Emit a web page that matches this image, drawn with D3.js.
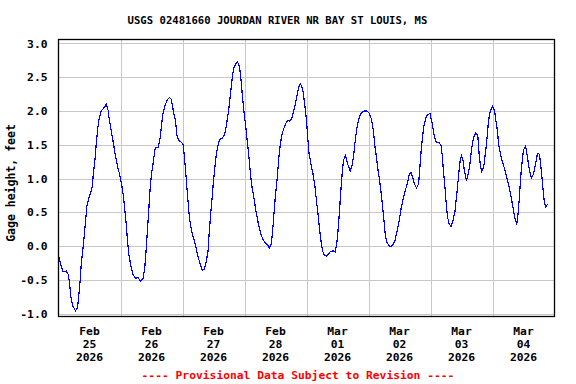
<!DOCTYPE html>
<html>
<head>
<meta charset="utf-8">
<script src="https://cdn.jsdelivr.net/npm/d3@7"></script>
<style>
  body { margin: 0; background: #fff; }
  text { font-family: "DejaVu Sans Mono", monospace; font-weight: bold; }
</style>
</head>
<body>
<svg id="chart"></svg>
<script>
// hours after 2026-02-25 00:00 and gage height (ft)
const hours = [
  0, 0.9, 1.7, 3, 3.8, 4.3, 4.8, 5.6, 6.6, 7.4, 7.9, 8.4, 8.9, 9.4, 9.9, 10.5, 11, 11.8, 12.5, 13,
  13.5, 14.1, 14.6, 15.1, 15.6, 16.4, 17.2, 18, 18.5, 19.2, 19.7, 20.5, 21.3, 22.1, 22.8, 23.6,
  24.4, 25.2, 25.7, 26.2, 26.7, 27.2, 28, 28.8, 29.8, 30.8, 31.6, 32.7, 33.4, 34, 34.5, 35, 35.5,
  36, 36.6, 37.3, 37.8, 38.6, 39.4, 39.9, 40.4, 41.2, 42.2, 43, 43.7, 44.5, 45.3, 45.8, 46.6, 47.4,
  48.2, 48.7, 49.4, 49.9, 50.5, 51, 51.8, 52.5, 53.3, 54.1, 54.9, 55.6, 56.4, 57.2, 57.9, 58.4, 59,
  59.5, 60, 60.6, 61.1, 61.9, 62.4, 63.4, 64.2, 65, 65.8, 66.3, 66.8, 67.3, 67.8, 68.6, 69.3, 70.1,
  70.6, 71.1, 71.6, 72.2, 72.7, 73.2, 73.7, 74.2, 74.7, 75.5, 76.3, 77.1, 77.8, 78.6, 79.4, 80.2,
  81, 81.7, 82.3, 82.8, 83.3, 83.8, 84.3, 84.8, 85.3, 85.9, 86.4, 87.2, 87.9, 88.7, 89.5, 90.2, 91,
  91.8, 92.6, 93.1, 93.7, 94.5, 95.2, 96, 96.5, 97, 97.7, 98.5, 99.3, 100, 100.6, 101.1, 101.6,
  102.2, 102.9, 103.7, 104.5, 105.3, 106.3, 107.1, 107.7, 108.2, 108.7, 109.2, 109.8, 110.3, 111.1,
  111.8, 112.9, 113.6, 114.2, 114.7, 115.2, 115.7, 116.5, 117.3, 118.3, 119.4, 120.4, 121.2, 121.9,
  122.5, 123, 123.5, 124.3, 125.1, 125.6, 126.1, 126.6, 127.2, 128, 128.7, 129.5, 130.3, 131.1,
  131.9, 132.6, 133.4, 134.2, 135, 135.8, 136.5, 137, 137.8, 138.6, 139.4, 139.9, 140.4, 140.9,
  141.5, 142.2, 143, 143.8, 144.7, 145.4, 146.2, 147.3, 148.1, 148.6, 149.1, 149.6, 150.1, 150.6,
  151.2, 151.9, 152.7, 153.5, 154.3, 155, 155.5, 156, 156.6, 157.1, 157.9, 158.4, 159.2, 159.7,
  160.2, 160.7, 161.5, 162.3, 162.8, 163.3, 163.8, 164.6, 165.4, 165.9, 166.4, 166.9, 167.5, 168,
  168.8, 169.3, 169.9, 170.4, 171.2, 171.9, 172.7, 173.5, 174.3, 175.1, 175.8, 176.3, 176.9, 177.4,
  177.9, 178.4, 178.9, 179.4, 180, 180.8, 181.5, 182.3, 183.1, 183.9, 184.7, 185.4, 186.2, 187,
  187.5, 188, 188.6, 189.4
];
const gageHeight = [
  -0.13, -0.28, -0.38, -0.37, -0.42, -0.56, -0.76, -0.89, -0.96, -0.91, -0.71, -0.50, -0.22, -0.07, 0.13, 0.38, 0.60, 0.72, 0.80, 0.87,
  1.07, 1.27, 1.51, 1.71, 1.86, 1.99, 2.03, 2.07, 2.10, 2.01, 1.86, 1.69, 1.51, 1.32, 1.19, 1.07,
  0.92, 0.72, 0.52, 0.33, 0.08, -0.12, -0.29, -0.42, -0.48, -0.46, -0.52, -0.48, -0.32, -0.02, 0.28, 0.57, 0.87,
  1.07, 1.22, 1.42, 1.46, 1.46, 1.61, 1.79, 1.96, 2.08, 2.17, 2.20, 2.17, 1.99, 1.86, 1.64, 1.56, 1.54,
  1.51, 1.34, 1.02, 0.77, 0.50, 0.33, 0.18, 0.09, -0.04, -0.17, -0.27, -0.36, -0.35, -0.23, -0.07, 0.23, 0.52,
  0.72, 0.97, 1.19, 1.37, 1.51, 1.58, 1.60, 1.64, 1.79, 1.99, 2.16, 2.33, 2.50, 2.63, 2.70, 2.73, 2.65,
  2.48, 2.26, 2.06, 1.86, 1.69, 1.51, 1.32, 1.12, 0.92, 0.75, 0.55, 0.38, 0.25, 0.15, 0.08, 0.04,
  0.01, -0.03, 0.03, 0.18, 0.43, 0.67, 0.87, 1.07, 1.32, 1.51, 1.64, 1.74, 1.81, 1.86, 1.85, 1.88, 1.99,
  2.13, 2.28, 2.37, 2.40, 2.33, 2.13, 1.86, 1.59, 1.37, 1.22, 1.07, 0.87, 0.62, 0.43, 0.23, 0.08,
  -0.07, -0.14, -0.15, -0.12, -0.08, -0.07, -0.09, 0.03, 0.23, 0.48, 0.77, 1.07, 1.27, 1.34,
  1.23, 1.11, 1.19, 1.32, 1.51, 1.66, 1.79, 1.91, 1.98, 2.00, 2.00, 1.96, 1.87, 1.71,
  1.47, 1.34, 1.17, 0.97, 0.72, 0.52, 0.33, 0.13, 0.05, 0.00, -0.01, 0.02, 0.09, 0.23,
  0.38, 0.55, 0.70, 0.82, 0.92, 1.07, 1.09, 1.03, 0.92, 0.86, 0.92, 1.17, 1.42, 1.61,
  1.79, 1.90, 1.95, 1.96, 1.81, 1.64, 1.54, 1.53, 1.49, 1.32, 1.07, 0.87, 0.62, 0.43,
  0.33, 0.29, 0.38, 0.52, 0.82, 1.09, 1.27, 1.34, 1.27, 1.12, 0.97, 1.04, 1.19, 1.37,
  1.51, 1.61, 1.67, 1.64, 1.37, 1.19, 1.11, 1.17, 1.42, 1.61, 1.83, 1.96, 2.03, 2.07,
  2.01, 1.86, 1.71, 1.49, 1.34, 1.24, 1.14, 1.02, 0.90, 0.75, 0.60, 0.48, 0.37, 0.33,
  0.48, 0.72, 1.02, 1.22, 1.42, 1.48, 1.32, 1.12, 1.01, 1.07, 1.22, 1.37, 1.36, 1.07,
  0.87, 0.67, 0.58, 0.62
];
const yTicks = [-1.0, -0.5, 0.0, 0.5, 1.0, 1.5, 2.0, 2.5, 3.0];
const dayMonths = ['Feb', 'Feb', 'Feb', 'Feb', 'Mar', 'Mar', 'Mar', 'Mar'];
const dayNumbers = ['25', '26', '27', '28', '01', '02', '03', '04'];
const dayYears = ['2026', '2026', '2026', '2026', '2026', '2026', '2026', '2026'];
const chartTitle = 'USGS 02481660 JOURDAN RIVER NR BAY ST LOUIS, MS';
const yLabel = 'Gage height, feet';
const footNote = '---- Provisional Data Subject to Revision ----';

class GageChart {
  constructor(id) {
    this.margin = {left: 58.5, top: 39.5};
    this.width = 496;
    this.height = 277;
    this.start = new Date(2026, 1, 25);
    this.end = new Date(2026, 2, 5);
    this.root = d3.select(id).attr('width', 576).attr('height', 384);
    this.svg = this.root.append('g')
      .attr('transform', `translate(${this.margin.left}, ${this.margin.top})`);
    this.xScale = d3.scaleTime().domain([this.start, this.end]).range([0, this.width]);
    this.yScale = d3.scaleLinear().domain([-1.044, 3.059]).range([this.height, 0]);
    this.data = hours.map((h, i) => ({
      date: d3.timeMinute.offset(this.start, Math.round(h * 60)),
      value: gageHeight[i]
    }));

    this.drawGrid();
    this.drawLine();
    this.drawFrame();
    this.drawYaxis();
    this.drawXaxis();
    this.drawTexts();
  }

  drawGrid() {
    const days = d3.timeDay.range(this.start, this.end).slice(1);
    this.svg.append('g')
      .call(d3.axisBottom(this.xScale).tickValues(days).tickSize(this.height).tickFormat(''))
      .call(g => g.select('.domain').remove())
      .call(g => g.selectAll('line').attr('stroke', '#c8c8c8').attr('shape-rendering', 'crispEdges'));
    this.svg.append('g')
      .call(d3.axisLeft(this.yScale).tickValues(yTicks).tickSize(-this.width).tickFormat(''))
      .call(g => g.select('.domain').remove())
      .call(g => g.selectAll('line').attr('stroke', '#c8c8c8').attr('shape-rendering', 'crispEdges'));
  }

  drawLine() {
    const line = d3.line()
      .x(d => this.xScale(d.date))
      .y(d => this.yScale(d.value));
    this.svg.append('path')
      .datum(this.data)
      .attr('d', line)
      .attr('fill', 'none')
      .attr('stroke', '#0000ff')
      .attr('stroke-width', 1.2)
      .attr('shape-rendering', 'crispEdges');
  }

  drawFrame() {
    this.svg.append('rect')
      .attr('width', this.width)
      .attr('height', this.height)
      .attr('fill', 'none')
      .attr('stroke', '#000')
      .attr('stroke-width', 1.3);
  }

  drawYaxis() {
    const yAxis = this.svg.append('g')
      .attr('transform', 'translate(-8, 0)')
      .call(d3.axisLeft(this.yScale).tickValues(yTicks).tickSize(0).tickFormat(d => d.toFixed(1)));
    yAxis.select('.domain').remove();
    yAxis.selectAll('text')
      .attr('font-family', '"DejaVu Sans Mono", monospace')
      .attr('font-size', 11.3)
      .attr('fill', '#000');
  }

  drawXaxis() {
    const noons = d3.timeDay.range(this.start, this.end).map(d => d3.timeHour.offset(d, 12));
    const labels = this.svg.append('g')
      .attr('transform', `translate(0, ${this.height})`)
      .selectAll('text')
      .data(noons)
      .enter()
      .append('text')
      .attr('text-anchor', 'middle')
      .attr('font-size', 11.3)
      .attr('fill', '#000');
    const rows = [dayMonths, dayNumbers, dayYears];
    rows.forEach((row, r) => {
      labels.append('tspan')
        .attr('x', d => this.xScale(d))
        .attr('y', 18 + r * 13)
        .text((d, i) => row[i]);
    });
  }

  drawTexts() {
    this.root.append('text')
      .attr('x', 277.5)
      .attr('y', 24)
      .attr('text-anchor', 'middle')
      .attr('font-size', 10.6)
      .text(chartTitle);
    this.root.append('text')
      .attr('transform', 'translate(15, 183) rotate(-90)')
      .attr('text-anchor', 'middle')
      .attr('font-size', 11.5)
      .text(yLabel);
    this.root.append('text')
      .attr('x', 298)
      .attr('y', 379)
      .attr('text-anchor', 'middle')
      .attr('font-size', 11.3)
      .attr('fill', '#ff0000')
      .text(footNote);
  }
}

new GageChart('#chart');
</script>
</body>
</html>
